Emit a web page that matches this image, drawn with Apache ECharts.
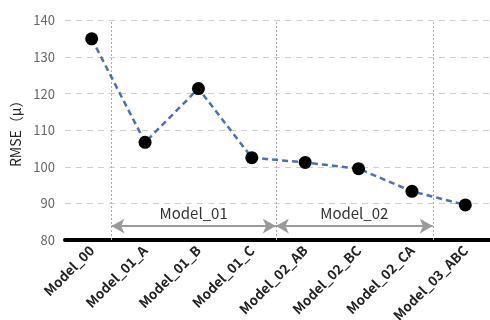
<!DOCTYPE html>
<html>
<head>
<meta charset="utf-8">
<script src="https://cdn.jsdelivr.net/npm/echarts@6/dist/echarts.min.js"></script>
<style>
  html, body { margin: 0; padding: 0; background: #fff; }
  #chart { width: 490px; height: 320px; }
</style>
</head>
<body>
<div id="chart"></div>
<script>
// Model names along the x axis
const models = ['Model_00', 'Model_01_A', 'Model_01_B', 'Model_01_C',
                'Model_02_AB', 'Model_02_BC', 'Model_02_CA', 'Model_03_ABC'];
// RMSE for each model
const rmse = [135.0, 106.7, 121.4, 102.5, 101.2, 99.5, 93.3, 89.6];
// Y axis range and step
const yTicks = [80, 90, 100, 110, 120, 130, 140];
// Model groups: label, first and last boundary (in category units)
const groupNames = ['Model_01', 'Model_02'];
const groupStart = [0.37, 3.45];
const groupEnd = [3.45, 6.39];
const separators = [0.37, 3.45, 6.39];

const FONT = '"Liberation Sans Narrow", "Noto Sans CJK JP", sans-serif';
const arrowY = 83.8;

const chart = echarts.init(document.getElementById('chart'));

const groupLines = groupNames.map((name, i) => [
  { coord: [groupStart[i], arrowY], name: name },
  { coord: [groupEnd[i], arrowY] }
]);

chart.setOption({
  animation: false,
  grid: { left: 65, right: -2, top: 20.5, bottom: 80, containLabel: false, outerBoundsMode: 'none' },
  xAxis: [
    {
      type: 'category',
      data: models,
      boundaryGap: true,
      axisLine: { lineStyle: { color: '#000', width: 4 } },
      axisTick: { show: false },
      axisLabel: {
        rotate: 45, margin: 8, color: '#222',
        fontFamily: FONT, fontSize: 13.5, fontWeight: 'bold'
      },
      splitLine: { show: false }
    },
    {
      type: 'value', min: -0.5, max: 7.5, show: false
    }
  ],
  yAxis: {
    type: 'value',
    min: yTicks[0], max: yTicks[yTicks.length - 1], interval: 10,
    name: 'RMSE（μ）',
    nameLocation: 'middle', nameGap: 40, nameRotate: 90,
    nameTextStyle: { color: '#222', fontFamily: FONT, fontSize: 14 },
    axisLine: { show: false },
    axisTick: { show: false },
    axisLabel: { color: '#666', fontFamily: FONT, fontSize: 13, margin: 10 },
    splitLine: { lineStyle: { color: '#cfcfcf', type: [6, 5], width: 1 } }
  },
  series: [
    {
      // group separators
      type: 'line',
      xAxisIndex: 1,
      data: [],
      silent: true,
      markLine: {
        silent: true,
        animation: false,
        symbol: 'none',
        lineStyle: { color: '#aaa', type: [2, 2], width: 1 },
        label: { show: false },
        data: separators.map(v => ({ xAxis: v }))
      }
    },
    {
      // group arrows with their names
      type: 'line',
      xAxisIndex: 1,
      data: [],
      silent: true,
      markLine: {
        silent: true,
        animation: false,
        symbol: ['arrow', 'arrow'],
        symbolSize: [11, 13],
        lineStyle: { color: '#9a9a9a', type: 'solid', width: 2 },
        itemStyle: { color: '#8a8a8a' },
        label: {
          show: true, position: 'middle', formatter: '{b}',
          color: '#333', fontFamily: FONT, fontSize: 15, distance: 5
        },
        data: groupLines
      }
    },
    {
      type: 'line',
      data: rmse,
      symbol: 'circle',
      symbolSize: 13,
      itemStyle: { color: '#000' },
      lineStyle: { color: '#4a6fb5', width: 2.5, type: [6, 4] },
      z: 5
    }
  ]
});
</script>
</body>
</html>
